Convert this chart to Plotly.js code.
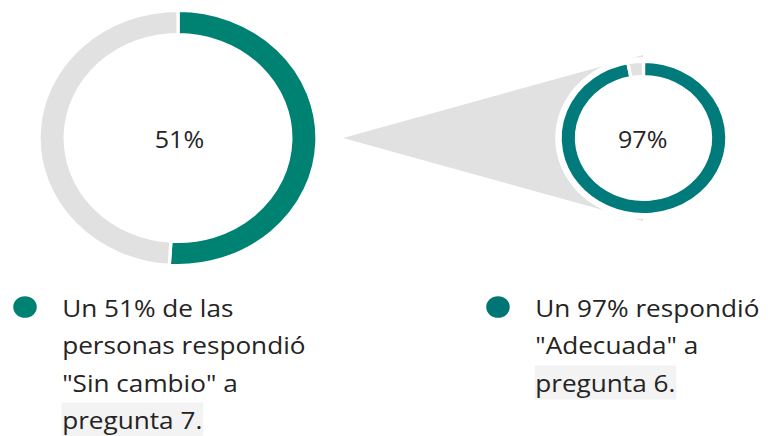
<!DOCTYPE html>
<html>
<head>
<meta charset="utf-8">
<script src="https://cdn.plot.ly/plotly-3.0.1.min.js"></script>
<style>
  html, body { margin: 0; padding: 0; overflow: hidden; background: #ffffff; width: 773px; height: 436px; }
  #chart { width: 709px; height: 436px; transform: scaleX(1.09); transform-origin: 0 0; }
</style>
</head>
<body>
<div id="chart"></div>
<script>
// ---- data ----
const bigLabels = ["Sin cambio", "Otras respuestas"];
const bigValues = [51, 49];
const smallLabels = ["Adecuada", "Otras respuestas"];
const smallValues = [97, 3];
const centerTexts = ["51%", "97%"];
const leftLegendLines = ["Un 51% de las", "personas respondió", "\"Sin cambio\" a", "pregunta 7."];
const rightLegendLines = ["Un 97% respondió", "\"Adecuada\" a", "pregunta 6."];

// ---- layout helpers (reference pixel -> paper fraction) ----
const W = 709, H = 436, SX = 1.09;
const fx = px => px / SX / W;
const fy = py => 1 - py / H;

const teal1 = "#008272", teal2 = "#007a7a", grey = "#e1e1e1", txt = "#252423";

// pie domain from centre (reference px) and vertical radius
function dom(cx, cy, r) {
  const cxu = cx / SX;
  return { x: [(cxu - r) / W, (cxu + r) / W], y: [1 - (cy + r) / H, 1 - (cy - r) / H] };
}

const bigR = 127.5, bigHole = 103.5 / 127.5;
const smR = 76.5, smHole = 61.5 / 76.5;

const traces = [
  {
    type: "pie", labels: bigLabels, values: bigValues, sort: false, direction: "clockwise",
    rotation: 0, hole: bigHole, domain: dom(178, 138, bigR), textinfo: "none", hoverinfo: "none",
    marker: { colors: [teal1, grey], line: { color: "#ffffff", width: 3 } }, showlegend: false
  },
  {
    type: "pie", labels: smallLabels, values: smallValues, sort: false, direction: "clockwise",
    rotation: 0, hole: smHole, domain: dom(643.5, 138, smR), textinfo: "none", hoverinfo: "none",
    marker: { colors: [teal2, grey], line: { color: "#ffffff", width: 3 } }, showlegend: false
  }
];

// connector triangle (behind the small donut) and white halo
function pt(x, y) { return fx(x) + "," + fy(y); }
const shapes = [
  { type: "path", xref: "paper", yref: "paper", layer: "below",
    path: "M" + pt(343, 138) + " L" + pt(643, 55) + " L" + pt(643, 221) + " Z",
    fillcolor: grey, line: { width: 0 } },
  { type: "circle", xref: "paper", yref: "paper", layer: "below",
    x0: fx(643.5 - 81 * SX), x1: fx(643.5 + 81 * SX), y0: fy(138 + 81), y1: fy(138 - 81),
    fillcolor: "#ffffff", line: { width: 0 } },
  { type: "circle", xref: "paper", yref: "paper",
    x0: fx(25) - 10.8 / W, x1: fx(25) + 10.8 / W, y0: fy(307 + 10.8), y1: fy(307 - 10.8),
    fillcolor: teal1, line: { width: 0 } },
  { type: "circle", xref: "paper", yref: "paper",
    x0: fx(498) - 10.8 / W, x1: fx(498) + 10.8 / W, y0: fy(307 + 10.8), y1: fy(307 - 10.8),
    fillcolor: "#007575", line: { width: 0 } }
];

const font = { family: "Open Sans, Noto Sans, sans-serif", size: 24, color: txt };
const annotations = [
  { text: centerTexts[0], x: fx(179), y: fy(139), xref: "paper", yref: "paper", showarrow: false,
    xanchor: "center", yanchor: "middle", font: { ...font, size: 23 } },
  { text: centerTexts[1], x: fx(643), y: fy(139), xref: "paper", yref: "paper", showarrow: false,
    xanchor: "center", yanchor: "middle", font: { ...font, size: 23 } }
];
leftLegendLines.forEach((t, i) => {
  const last = i === leftLegendLines.length - 1;
  annotations.push({ text: t, x: fx(61), y: fy(307 + 37.5 * i), xref: "paper", yref: "paper",
    showarrow: false, xanchor: "left", yanchor: "middle", font: font,
    bgcolor: last ? "#f3f3f3" : "rgba(0,0,0,0)", borderpad: 0 });
});
rightLegendLines.forEach((t, i) => {
  const last = i === rightLegendLines.length - 1;
  annotations.push({ text: t, x: fx(534), y: fy(307 + 37.5 * i), xref: "paper", yref: "paper",
    showarrow: false, xanchor: "left", yanchor: "middle", font: font,
    bgcolor: last ? "#f3f3f3" : "rgba(0,0,0,0)", borderpad: 0 });
});

const layout = {
  width: W, height: H, margin: { l: 0, r: 0, t: 0, b: 0 },
  paper_bgcolor: "#ffffff", plot_bgcolor: "#ffffff",
  showlegend: false, shapes: shapes, annotations: annotations
};

Plotly.newPlot("chart", traces, layout, { staticPlot: true, displayModeBar: false });
</script>
</body>
</html>
